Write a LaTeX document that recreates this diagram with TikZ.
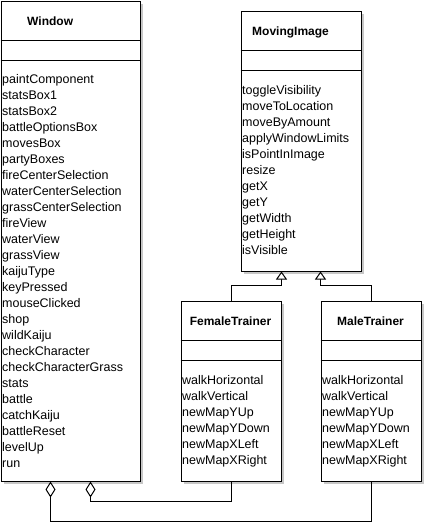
\documentclass[tikz,border=0pt]{standalone}
\usepackage{fontspec}
\setmainfont{Liberation Sans}
\usetikzlibrary{arrows.meta,shadows,calc}
\begin{document}
\begin{tikzpicture}[x=1pt,y=-1pt,
  cls/.style={draw=black, line width=1pt, fill=white, anchor=north west, inner sep=0pt,
    drop shadow={shadow xshift=3pt,shadow yshift=-3pt,fill=black!22,opacity=1}},
  ttl/.style={font=\fontsize{12}{14}\selectfont\bfseries, inner sep=0pt},
  meth/.style={font=\fontsize{12.5}{14}\selectfont, inner sep=0pt, anchor=base west},
  sepline/.style={line width=1pt},
  inh/.style={line width=1pt, -{Triangle[length=8pt,width=11pt,fill=white]}},
  agg/.style={line width=1pt, -{Diamond[length=16pt,width=10pt,fill=white]}}]
\useasboundingbox (0,0) rectangle (425,525);
\fill[white] (0,0) rectangle (425,525);

% Window
\node[cls, minimum width=139pt, minimum height=480pt] (win) at (0.5,0.5) {};
\draw[sepline] (win.north west) ++(0,40) -- ++(139,0);
\draw[sepline] (win.north west) ++(0,60) -- ++(139,0);
\node[ttl, anchor=base west] (wt) at (27,25) {Window};
\foreach \t [count=\i from 0] in {paintComponent,statsBox1,statsBox2,battleOptionsBox,movesBox,partyBoxes,fireCenterSelection,waterCenterSelection,grassCenterSelection,fireView,waterView,grassView,kaijuType,keyPressed,mouseClicked,shop,wildKaiju,checkCharacter,checkCharacterGrass,stats,battle,catchKaiju,battleReset,levelUp,run}
  \node[meth] (w\i) at (2,{83+16*\i}) {\t};

% MovingImage
\node[cls, minimum width=120pt, minimum height=260pt] (mov) at (240.5,10.5) {};
\draw[sepline] (mov.north west) ++(0,40) -- ++(120,0);
\draw[sepline] (mov.north west) ++(0,60) -- ++(120,0);
\node[ttl, anchor=base west] (mt) at (252,35) {MovingImage};
\foreach \t [count=\i from 0] in {toggleVisibility,moveToLocation,moveByAmount,applyWindowLimits,isPointInImage,resize,getX,getY,getWidth,getHeight,isVisible}
  \node[meth] (m\i) at (242,{94+16*\i}) {\t};

% FemaleTrainer
\node[cls, minimum width=100pt, minimum height=180pt] (fem) at (180.5,300.5) {};
\draw[sepline] (fem.north west) ++(0,40) -- ++(100,0);
\draw[sepline] (fem.north west) ++(0,60) -- ++(100,0);
\node[ttl, anchor=base] (ft) at (230.5,325) {FemaleTrainer};
\foreach \t [count=\i from 0] in {walkHorizontal,walkVertical,newMapYUp,newMapYDown,newMapXLeft,newMapXRight}
  \node[meth] (f\i) at (182,{384+16*\i}) {\t};

% MaleTrainer
\node[cls, minimum width=100pt, minimum height=180pt] (mal) at (320.5,300.5) {};
\draw[sepline] (mal.north west) ++(0,40) -- ++(100,0);
\draw[sepline] (mal.north west) ++(0,60) -- ++(100,0);
\node[ttl, anchor=base] (mlt) at (370.5,325) {MaleTrainer};
\foreach \t [count=\i from 0] in {walkHorizontal,walkVertical,newMapYUp,newMapYDown,newMapXLeft,newMapXRight}
  \node[meth] (k\i) at (322,{384+16*\i}) {\t};

% connectors
\draw[inh] (fem.north) -- ++(0,-15) -| (mov.south -| fem.north east);
\draw[inh] (mal.north) -- ++(0,-15) -| (mov.south -| mal.north west);
\draw[agg] (fem.south) -- ++(0,20) -| ($(win.south west)+(90,0)$);
\draw[agg] (mal.south) -- ++(0,40) -| ($(win.south west)+(50,0)$);
\end{tikzpicture}
\end{document}
